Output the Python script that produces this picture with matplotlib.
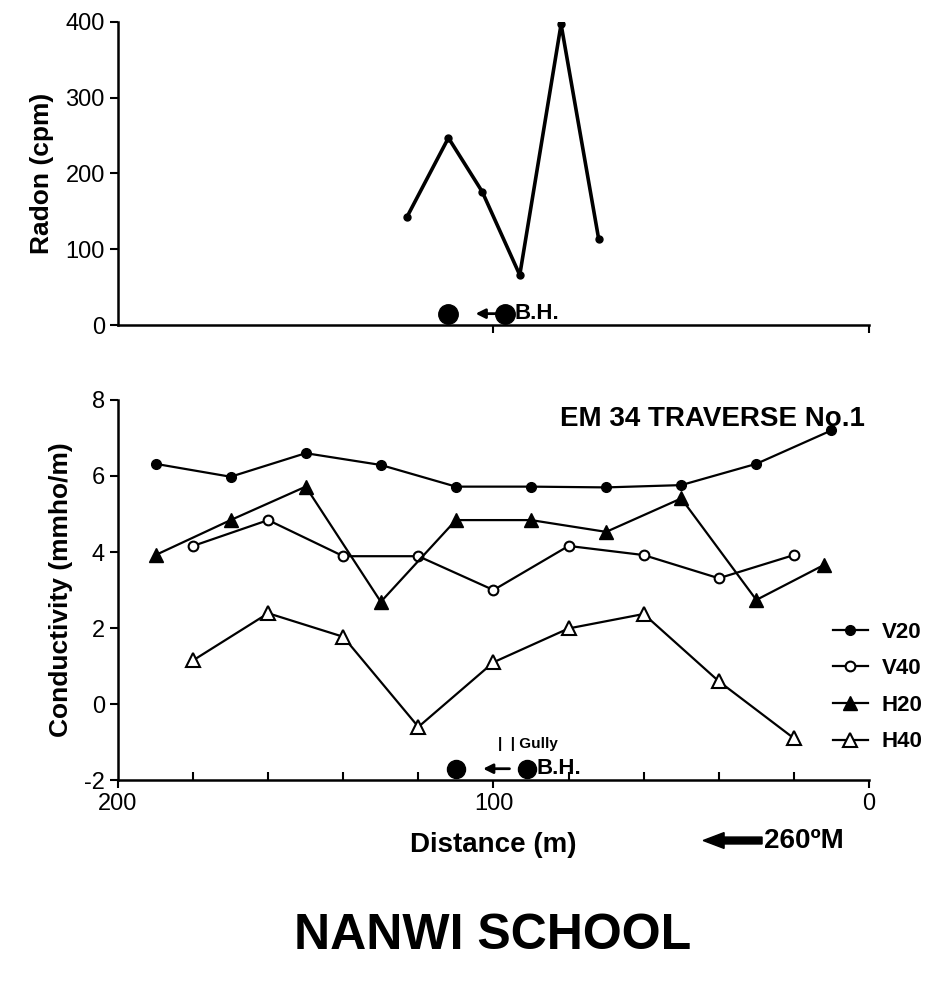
import matplotlib

matplotlib.use("Agg")
import matplotlib.pyplot as plt
from matplotlib.patches import FancyArrow

plt.rcParams["font.family"] = ["Liberation Sans", "DejaVu Sans"]
plt.rcParams["axes.unicode_minus"] = False

# radon traverse (top panel)
radon_x = [123, 112, 103, 93, 82, 72]
radon_y = [143, 247, 176, 66, 397, 114]

# EM34 conductivity traverse (bottom panel)
v20_x = [190, 170, 150, 130, 110, 90, 70, 50, 30, 10]
v20_y = [6.32, 5.98, 6.6, 6.29, 5.72, 5.72, 5.70, 5.76, 6.32, 7.2]
v40_x = [180, 160, 140, 120, 100, 80, 60, 40, 20]
v40_y = [4.16, 4.84, 3.89, 3.89, 3.0, 4.16, 3.92, 3.31, 3.92]
h20_x = [190, 170, 150, 130, 110, 90, 70, 50, 30, 12]
h20_y = [3.92, 4.84, 5.72, 2.69, 4.84, 4.84, 4.53, 5.41, 2.74, 3.66]
h40_x = [180, 160, 140, 120, 100, 80, 60, 40, 20]
h40_y = [1.15, 2.39, 1.77, -0.6, 1.1, 1.99, 2.37, 0.6, -0.9]

bh_x = [112, 97]

fig = plt.figure(figsize=(9.49, 9.9), dpi=100)
ax1 = fig.add_axes([0.1243, 0.6717, 0.7914, 0.3061])
ax2 = fig.add_axes([0.1243, 0.212, 0.7914, 0.384])

for ax in (ax1, ax2):
    ax.spines["top"].set_visible(False)
    ax.spines["right"].set_visible(False)
    for s in ("left", "bottom"):
        ax.spines[s].set_linewidth(1.8)
    ax.set_xlim(200, 0)
    ax.tick_params(width=1.5, length=6, labelsize=17)

# --- top: radon
ax1.plot(radon_x, radon_y, "-o", color="black", lw=2.6, ms=5)
ax1.set_ylim(0, 400)
ax1.set_yticks([0, 100, 200, 300, 400])
ax1.set_xticks([100, 0])
ax1.tick_params(axis="x", labelbottom=False)
ax1.set_ylabel("Radon (cpm)", fontsize=19, fontweight="bold", labelpad=8)
ax1.plot(bh_x, [15, 15], "o", color="black", ms=14, clip_on=False)
ax1.annotate("", xy=(105.5, 15), xytext=(98.5, 15),
             arrowprops=dict(arrowstyle="-|>", color="black", lw=2, mutation_scale=14))
ax1.text(94.5, 15, "B.H.", fontsize=16, fontweight="bold", va="center", ha="left")

# --- bottom: conductivity
ax2.plot(v20_x, v20_y, "-o", color="black", lw=1.6, ms=7, label="V20")
ax2.plot(v40_x, v40_y, "-o", color="black", lw=1.6, ms=7, mfc="white", mew=1.5, label="V40")
ax2.plot(h20_x, h20_y, "-^", color="black", lw=1.6, ms=10, label="H20")
ax2.plot(h40_x, h40_y, "-^", color="black", lw=1.6, ms=10, mfc="white", mew=1.5, label="H40")
ax2.set_ylim(-2, 8)
ax2.set_yticks([-2, 0, 2, 4, 6, 8])
ax2.set_xticks([200, 100, 0])
ax2.set_xticks(range(0, 201, 20), minor=True)
ax2.tick_params(axis="x", which="minor", direction="in", length=6, width=1.5)
ax2.set_ylabel("Conductivity (mmho/m)", fontsize=19, fontweight="bold", labelpad=8)
ax2.set_xlabel("Distance (m)", fontsize=20, fontweight="bold", labelpad=12)
ax2.text(0.995, 0.985, "EM 34 TRAVERSE No.1", transform=ax2.transAxes,
         ha="right", va="top", fontsize=20, fontweight="bold")

ax2.plot([110, 91], [-1.7, -1.7], "o", color="black", ms=13, clip_on=False)
ax2.annotate("", xy=(103.5, -1.7), xytext=(95.0, -1.7),
             arrowprops=dict(arrowstyle="-|>", color="black", lw=2, mutation_scale=14))
ax2.text(88.5, -1.7, "B.H.", fontsize=16, fontweight="bold", va="center", ha="left")
ax2.text(98.8, -1.05, "|  | Gully", fontsize=11, fontweight="bold", va="center", ha="left")

ax2.legend(loc="center left", bbox_to_anchor=(0.925, 0.245), frameon=False,
           prop={"size": 16, "weight": "bold"}, handlelength=1.6,
           labelspacing=0.7, handletextpad=0.6)

# compass arrow
fig.text(0.805, 0.151, "260ºM", fontsize=20, fontweight="bold", ha="left", va="center")
fig.patches.append(FancyArrow(
    0.803, 0.151, -0.062, 0, width=0.007, head_width=0.016, head_length=0.022,
    color="black", transform=fig.transFigure, length_includes_head=True))

fig.text(0.519, 0.055, "NANWI SCHOOL", fontsize=36, fontweight="bold", ha="center", va="center")

fig.savefig("out.png", dpi=100)
